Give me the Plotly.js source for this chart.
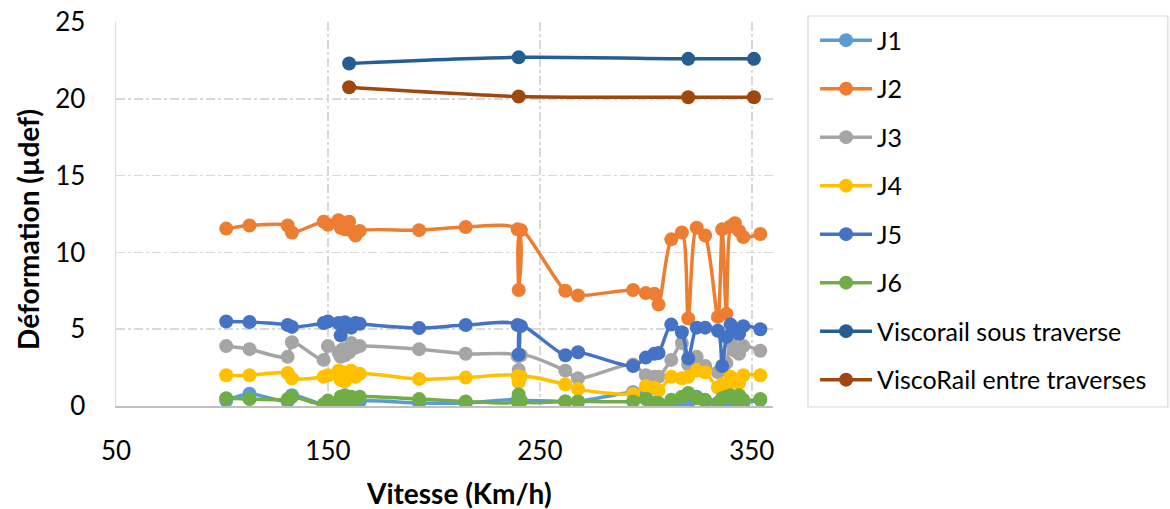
<!DOCTYPE html>
<html>
<head>
<meta charset="utf-8">
<script src="https://cdn.plot.ly/plotly-3.0.1.min.js"></script>
<style>html,body{margin:0;padding:0;background:#fff;}#chart{width:1170px;height:509px;}</style>
</head>
<body>
<div id="chart"></div>
<script>
// Speeds (km/h) shared by the J gauges
const vitesse = [102,113,131,133,148,150,155,156,157,158,160,161,163,165,193,215,239.5,240,241,262,268,294,300,304,306,312,317,320,324,328,334,336,338,340,342,344,346,354];
const J1 = [0.35,0.8,0.3,0.7,0.1,0.2,0.2,0.1,0.3,0.15,0.2,0.25,0.1,0.3,0.2,0.2,0.4,0.3,0.35,0.3,0.3,0.9,0.8,0.2,0.1,0.1,0.0,0.2,0.6,0.3,0.2,0.0,0.1,0.2,0.1,0.3,0.2,0.4];
const J2 = [11.55,11.75,11.75,11.3,12.0,11.8,12.1,11.6,11.9,11.5,12.0,11.4,11.1,11.4,11.45,11.65,11.5,7.55,11.45,7.5,7.2,7.55,7.35,7.3,6.6,10.85,11.3,5.7,11.6,11.1,5.8,11.5,6.0,11.7,11.9,11.4,11.0,11.2];
const J3 = [3.9,3.7,3.2,4.15,3.0,3.9,3.5,3.2,3.7,3.3,3.5,4.1,3.8,3.9,3.7,3.4,3.25,2.35,3.3,2.3,1.8,2.7,2.0,1.9,1.9,3.0,4.1,2.7,3.2,2.6,2.2,2.4,2.8,4.2,3.6,3.4,3.9,3.6];
const J4 = [2.0,2.0,2.15,1.8,1.9,2.0,2.3,1.7,2.2,1.6,2.0,2.3,1.9,2.1,1.75,1.85,1.95,1.55,1.9,1.4,1.1,0.8,1.3,1.2,1.0,1.9,1.8,1.9,2.3,2.2,1.2,1.4,1.3,1.9,1.6,1.5,2.0,2.0];
const J5 = [5.5,5.47,5.27,5.15,5.4,5.5,5.4,4.6,5.3,5.45,5.3,5.1,5.4,5.35,5.08,5.27,5.27,3.35,5.2,3.3,3.5,2.6,3.15,3.4,3.45,5.3,4.8,3.1,5.1,5.1,4.9,2.6,4.5,5.3,5.0,4.7,5.2,5.0];
const J6 = [0.5,0.45,0.45,0.6,0.1,0.35,0.3,0.6,0.5,0.7,0.4,0.6,0.5,0.6,0.45,0.3,0.3,0.75,0.3,0.3,0.3,0.3,0.45,0.2,0.2,0.4,0.6,0.85,0.5,0.4,0.2,0.5,0.6,0.7,0.5,0.7,0.4,0.45];
// Viscorail measurements
const vitesseVisco = [160,240,320,351];
const viscoSous = [22.3,22.7,22.6,22.6];
const viscoEntre = [20.75,20.15,20.1,20.1];

const names = ["J1","J2","J3","J4","J5","J6","Viscorail sous traverse","ViscoRail entre traverses"];
const colors = ["#5B9BD5","#ED7D31","#A5A5A5","#FFC000","#4472C4","#70AD47","#255E91","#9E480E"];
const xs = [vitesse,vitesse,vitesse,vitesse,vitesse,vitesse,vitesseVisco,vitesseVisco];
const ys = [J1,J2,J3,J4,J5,J6,viscoSous,viscoEntre];
const xTitle = "Vitesse (Km/h)";
const yTitle = "Déformation (µdef)";

const FONT = "Lato, 'Open Sans', sans-serif";
const traces = names.map((n,i)=>({
  type:"scatter", mode:"lines+markers", name:n, x:xs[i], y:ys[i],
  legendgroup:"g"+i,
  line:{color:colors[i], width:3.5, shape:"spline", smoothing:0.8},
  marker:{color:colors[i], size:14}
}));

const layout = {
  width:1170, height:509,
  paper_bgcolor:"#fff", plot_bgcolor:"#fff",
  margin:{l:116, r:397, t:22, b:103},
  font:{family:FONT, color:"#000"},
  showlegend:true,
  legend:{x:1.064, xanchor:"left", y:1.012, yanchor:"top", maxheight:490, font:{size:25, family:FONT, color:"#000"},
          tracegroupgap:13, traceorder:"grouped", bgcolor:"rgba(0,0,0,0)", borderwidth:0, itemwidth:52},
  xaxis:{range:[50,360], tick0:50, dtick:100, showgrid:true, gridcolor:"#D9D9D9", griddash:"dashdot", gridwidth:1.5,
         showline:true, linecolor:"#BFBFBF", linewidth:1.5, zeroline:false, ticks:"",
         ticklabelstandoff:21, tickfont:{size:26, family:FONT, color:"#000"}},
  yaxis:{range:[0,25], dtick:5, showgrid:true, gridcolor:"#D9D9D9", griddash:"dashdot", gridwidth:1.5,
         showline:true, linecolor:"#D9D9D9", linewidth:1.5, zeroline:false, ticks:"",
         ticklabelstandoff:24, tickfont:{size:26, family:FONT, color:"#000"}},
  annotations:[
    {text:"<b>"+xTitle+"</b>", xref:"paper", yref:"paper", x:0.522, y:-0.2266, xanchor:"center", yanchor:"middle",
     showarrow:false, font:{size:28, family:FONT, color:"#000"}},
    {text:"<b>"+yTitle+"</b>", xref:"paper", yref:"paper", x:-0.134, y:0.461, xanchor:"center", yanchor:"middle",
     textangle:-90, showarrow:false, font:{size:28, family:FONT, color:"#000"}}
  ],
  shapes:[{type:"rect", xref:"paper", yref:"paper", x0:1.0533, x1:1.601, y0:-0.0026, y1:1.0156,
           line:{color:"#D9D9D9", width:1.2}, fillcolor:"rgba(0,0,0,0)"}]
};
Plotly.newPlot("chart", traces, layout, {displayModeBar:false, staticPlot:true});
</script>
</body>
</html>
